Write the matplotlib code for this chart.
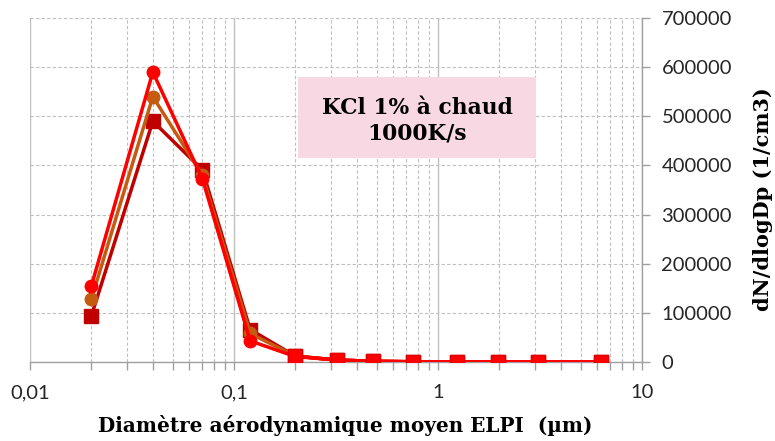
import numpy as np
import matplotlib
matplotlib.use("Agg")
import matplotlib.pyplot as plt
from matplotlib.patches import Rectangle
from matplotlib.ticker import FixedLocator, FuncFormatter, LogLocator, NullFormatter

diam = [0.020, 0.040, 0.070, 0.120, 0.20, 0.32, 0.48, 0.75, 1.24, 1.97, 3.09, 6.3]
s_darkred = [94000, 490000, 391000, 66000, 12000, 4000, 1500, 500, 300, 200, 100, 100]
s_orange = [128000, 540000, 380000, 58000, 12000, 4000, 1500, 500, 300, 200, 100, 100]
s_red = [155000, 590000, 373000, 43000, 11000, 4000, 1500, 500, 300, 200, 100, 100]
s_redsq = [None, None, None, None, 12000, 4000, 1500, 500, 300, 200, 100, 100]

yticks = [0, 100000, 200000, 300000, 400000, 500000, 600000, 700000]
xtick_labels = ["0,01", "0,1", "1", "10"]

W, H = 775, 441
fig = plt.figure(figsize=(W/100, H/100), dpi=100)
ax = fig.add_axes([30/W, 1-362/H, (642-30)/W, (362-18)/H])

ax.set_xscale("log")
ax.set_xlim(0.01, 10)
ax.set_ylim(0, 700000)

def arr(v):
    return np.array([np.nan if a is None else a for a in v], dtype=float)

ax.plot(diam, arr(s_darkred), color="#C00000", lw=2.5, marker="s", ms=10, zorder=3)
ax.plot(diam, arr(s_orange), color="#C55A11", lw=2.5, marker="o", ms=9, zorder=4)
ax.plot(diam, arr(s_red), color="#FF0000", lw=2.5, marker="o", ms=9, zorder=5)
ax.plot(diam, arr(s_redsq), color="#FF0000", lw=2.5, marker="s", ms=10.5,
        markeredgecolor="#E00000", zorder=6)

ax.yaxis.tick_right()
ax.set_yticks(yticks)
ax.set_yticklabels([str(v) for v in yticks])

ax.xaxis.set_major_locator(FixedLocator([0.01, 0.1, 1, 10]))
ax.xaxis.set_major_formatter(FuncFormatter(lambda v, p: xtick_labels[int(round(np.log10(v))) + 2]))
ax.xaxis.set_minor_locator(LogLocator(base=10, subs=np.arange(2, 10), numticks=20))
ax.xaxis.set_minor_formatter(NullFormatter())

gc = "#BFBFBF"
ax.grid(True, which="major", axis="x", color=gc, lw=1.0, ls="-")
ax.grid(True, which="minor", axis="x", color=gc, lw=0.8, ls=(0, (3, 2)))
ax.grid(True, which="major", axis="y", color=gc, lw=0.8, ls=(0, (3, 2)))
ax.set_axisbelow(True)

for s in ["top", "left"]:
    ax.spines[s].set_visible(False)
for s in ["bottom", "right"]:
    ax.spines[s].set_color("#A0A0A0")
    ax.spines[s].set_linewidth(1.0)

ax.tick_params(axis="x", which="both", direction="out", color="#A0A0A0", length=6, width=1, pad=10)
ax.tick_params(axis="y", which="major", direction="out", color="#A0A0A0", length=6, width=1,
               right=True, left=False, labelright=True, labelleft=False, pad=8)

for lab in ax.get_xticklabels() + ax.get_yticklabels():
    lab.set_fontfamily("Lato")
    lab.set_fontsize(14.5)
    lab.set_color("#262626")

fig.text(345/W, 1-425/H, "Diamètre aérodynamique moyen ELPI  (µm)", ha="center", va="center",
         fontfamily="DejaVu Serif", fontweight="bold", fontsize=14.4)
fig.text(763/W, 1-199/H, "dN/dlogDp (1/cm3)", ha="center", va="center", rotation=90,
         fontfamily="DejaVu Serif", fontweight="bold", fontsize=15)

ax.add_patch(Rectangle((0.438, 0.593), 0.389, 0.2355, transform=ax.transAxes,
                       facecolor="#F8D9E3", edgecolor="none", zorder=7))
ax.text(0.6325, 0.700, "KCl 1% à chaud\n1000K/s", transform=ax.transAxes, ha="center", va="center",
        fontfamily="DejaVu Serif", fontweight="bold", fontsize=15.7, linespacing=1.2, zorder=8)

fig.savefig("out.png", dpi=100)
